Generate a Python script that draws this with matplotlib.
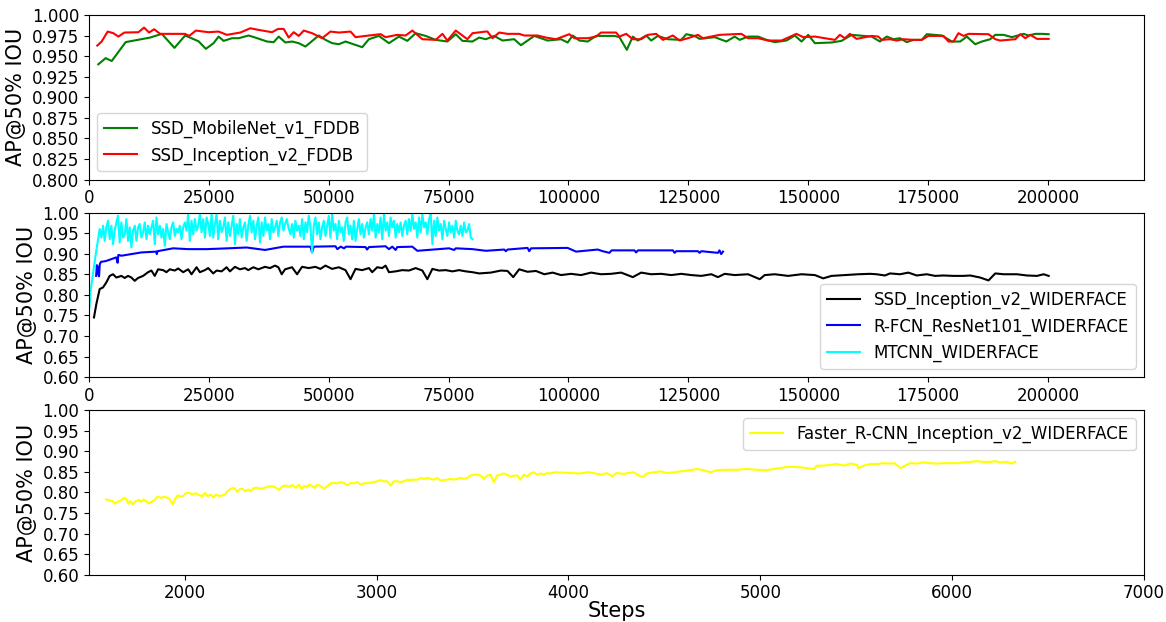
import matplotlib.pyplot as plt
import numpy as np
from matplotlib.ticker import FormatStrFormatter

# ---- top panel (FDDB): (step, AP@50) ----
mobilenet_fddb = [
    (1950, 0.940), (3480, 0.9475), (4740, 0.944), (7660, 0.967), (12750, 0.9725), (15190, 0.977),
    (17830, 0.960), (20060, 0.975), (22850, 0.968), (24380, 0.9588), (25990, 0.9657), (27030, 0.9737),
    (28080, 0.9685), (29820, 0.9717), (31210, 0.9717), (33300, 0.975), (34690, 0.9725), (37130, 0.9677),
    (38520, 0.9669), (39570, 0.9737), (40960, 0.9665), (42360, 0.9677), (43750, 0.9657), (45140, 0.9616),
    (47930, 0.975), (49320, 0.9697), (50720, 0.9657), (52110, 0.9644), (53500, 0.9677), (56990, 0.9608),
    (58380, 0.9705), (60470, 0.9745), (62560, 0.9657), (64650, 0.9737), (66390, 0.9685), (68130, 0.9778),
    (70220, 0.9745), (72310, 0.9697), (74750, 0.9677), (76490, 0.9766), (77890, 0.9685), (79980, 0.9677),
    (81370, 0.9725), (82760, 0.9705), (84510, 0.9745), (86250, 0.9689), (88690, 0.9705), (90080, 0.9632),
    (92870, 0.9745), (95650, 0.9689), (98440, 0.9705), (99830, 0.9665), (100880, 0.975), (102270, 0.9689),
    (104010, 0.9677), (105760, 0.9745), (109590, 0.9745), (110630, 0.973), (112170, 0.9576), (113420, 0.9737),
    (114460, 0.9689), (116210, 0.975), (117250, 0.9689), (118640, 0.9745), (120730, 0.9705), (123520, 0.9697),
    (124570, 0.9766), (126310, 0.9745), (127350, 0.9709), (130490, 0.973), (132930, 0.9677), (134670, 0.9737),
    (135710, 0.9697), (137460, 0.9737), (139550, 0.9737), (141290, 0.9697), (143030, 0.9669), (145470, 0.9689),
    (147210, 0.975), (148600, 0.9677), (150000, 0.9758), (151390, 0.9657), (154870, 0.9665), (156960, 0.9685),
    (159050, 0.9758), (163230, 0.9737), (164970, 0.9677), (166370, 0.9737), (167760, 0.9705), (169150, 0.9717),
    (170550, 0.9669), (171940, 0.9697), (173680, 0.9697), (174730, 0.9766), (177860, 0.975), (179950, 0.9677),
    (181690, 0.9677), (183090, 0.9737), (184830, 0.9644), (186220, 0.9677), (187960, 0.9705), (189010, 0.9758),
    (190750, 0.9758), (192490, 0.973), (194930, 0.977), (195970, 0.975), (197370, 0.977), (198760, 0.977),
    (200150, 0.9766),
]
inception_fddb = [
    (1740, 0.9628), (2650, 0.9677), (3900, 0.9798), (5090, 0.9778), (6130, 0.9737), (7380, 0.9786),
    (10310, 0.979), (11500, 0.9846), (12540, 0.9786), (13590, 0.9826), (14840, 0.977), (17280, 0.977),
    (20060, 0.977), (20900, 0.9745), (22290, 0.981), (24940, 0.979), (27030, 0.9798), (28770, 0.9758),
    (31560, 0.9786), (33650, 0.9838), (35390, 0.9818), (38180, 0.979), (39430, 0.983), (40610, 0.983),
    (41660, 0.9725), (42710, 0.979), (43750, 0.9745), (44800, 0.981), (46540, 0.9778), (48630, 0.9717),
    (50370, 0.9798), (52110, 0.9786), (54550, 0.9798), (55590, 0.973), (58380, 0.975), (60820, 0.9766),
    (61860, 0.973), (64300, 0.9758), (66040, 0.975), (67440, 0.981), (69530, 0.9705), (72310, 0.9697),
    (73710, 0.977), (74750, 0.9689), (76490, 0.981), (78930, 0.9705), (79980, 0.9778), (82760, 0.9798),
    (83110, 0.9798), (84160, 0.9717), (85550, 0.9786), (87290, 0.977), (89730, 0.977), (90780, 0.975),
    (93560, 0.975), (95310, 0.9725), (97400, 0.9705), (100180, 0.9766), (101230, 0.9717), (104010, 0.9717),
    (105760, 0.9737), (106800, 0.9786), (109940, 0.9786), (110630, 0.9737), (112030, 0.977), (113420, 0.9705),
    (115160, 0.9705), (116550, 0.9758), (118300, 0.977), (119690, 0.9697), (121780, 0.975), (123170, 0.9689),
    (124910, 0.9717), (127000, 0.9758), (128050, 0.9717), (131530, 0.9758), (136060, 0.977), (137460, 0.9717),
    (139550, 0.9717), (141640, 0.9689), (144420, 0.9689), (147560, 0.977), (148950, 0.973), (151390, 0.9737),
    (155570, 0.9697), (156610, 0.9758), (157660, 0.9717), (158700, 0.977), (160100, 0.9709), (163230, 0.9745),
    (164620, 0.9737), (165320, 0.9697), (167060, 0.9705), (168460, 0.9689), (169850, 0.9705), (171940, 0.9697),
    (173680, 0.9697), (175070, 0.9745), (178210, 0.9745), (179250, 0.9677), (180300, 0.9677), (181340, 0.9778),
    (182390, 0.9745), (183430, 0.977), (187610, 0.9766), (189010, 0.9705), (190050, 0.9689), (193190, 0.9705),
    (194230, 0.9766), (195280, 0.9717), (196320, 0.9758), (197720, 0.9709), (200150, 0.9709),
]

# ---- middle panel (WIDERFACE) ----
inception_wider = [
    (1045, 0.745), (1530, 0.777), (2230, 0.814), (2930, 0.818), (3620, 0.830), (4320, 0.846), (5020, 0.850),
    (5710, 0.842), (6760, 0.846), (7450, 0.841), (8150, 0.846), (8850, 0.842), (9540, 0.834), (10240, 0.841),
    (11290, 0.846), (12330, 0.855), (13030, 0.859), (13720, 0.846), (14420, 0.862), (15470, 0.860),
    (16160, 0.855), (16860, 0.862), (17900, 0.859), (18600, 0.864), (19650, 0.855), (20690, 0.862),
    (21390, 0.850), (22440, 0.867), (23130, 0.855), (24170, 0.860), (24870, 0.865), (25920, 0.852),
    (26610, 0.859), (27660, 0.857), (28700, 0.867), (29400, 0.857), (30440, 0.868), (31490, 0.862),
    (32530, 0.865), (33230, 0.860), (34280, 0.867), (35320, 0.862), (36710, 0.868), (37760, 0.865),
    (38800, 0.871), (39500, 0.867), (40200, 0.850), (40900, 0.862), (42350, 0.867), (43400, 0.850),
    (44440, 0.868), (45840, 0.865), (47230, 0.868), (48270, 0.863), (49320, 0.871), (50710, 0.863),
    (52110, 0.867), (53500, 0.860), (54550, 0.838), (55590, 0.863), (56980, 0.860), (58380, 0.865),
    (59070, 0.855), (60120, 0.867), (61160, 0.865), (61860, 0.871), (62560, 0.855), (63950, 0.857),
    (65350, 0.860), (66740, 0.859), (68130, 0.865), (69530, 0.859), (70570, 0.838), (71620, 0.863),
    (73010, 0.859), (74400, 0.860), (75800, 0.857), (77190, 0.860), (78590, 0.857), (79980, 0.855),
    (81370, 0.852), (83810, 0.854), (85900, 0.859), (87290, 0.858), (88480, 0.843), (89730, 0.862),
    (91470, 0.856), (93220, 0.858), (94960, 0.850), (96700, 0.854), (98440, 0.848), (100530, 0.851),
    (102620, 0.848), (104710, 0.854), (106800, 0.850), (108890, 0.851), (110980, 0.854), (113420, 0.843),
    (115160, 0.854), (117250, 0.850), (119340, 0.851), (121430, 0.848), (123520, 0.851), (125610, 0.848),
    (127700, 0.846), (129790, 0.850), (131180, 0.843), (132580, 0.851), (134670, 0.848), (137460, 0.850),
    (139900, 0.838), (140940, 0.848), (143030, 0.850), (145820, 0.846), (148600, 0.850), (151390, 0.848),
    (153130, 0.840), (154870, 0.846), (157660, 0.848), (160450, 0.850), (162890, 0.851), (164270, 0.850),
    (166010, 0.847), (167060, 0.852), (169150, 0.850), (170890, 0.854), (172630, 0.847), (174720, 0.850),
    (176460, 0.846), (178200, 0.847), (180290, 0.846), (182380, 0.846), (183780, 0.847), (185870, 0.842),
    (187610, 0.835), (189010, 0.852), (190750, 0.850), (193540, 0.850), (195620, 0.847), (197710, 0.846),
    (199100, 0.850), (200150, 0.846),
]
rfcn_wider = [
    (1500, 0.846), (1650, 0.872), (1800, 0.850), (1950, 0.868), (2100, 0.845), (2250, 0.874), (2490, 0.880),
    (3500, 0.882), (4500, 0.886), (5700, 0.891), (5970, 0.878), (6130, 0.897), (6760, 0.895), (10940, 0.903),
    (14070, 0.905), (14140, 0.899), (14300, 0.906), (17560, 0.913), (20690, 0.911), (24520, 0.911),
    (29050, 0.913), (32880, 0.915), (36710, 0.909), (40550, 0.917), (46190, 0.917), (46530, 0.903),
    (46900, 0.917), (51410, 0.918), (51800, 0.911), (52500, 0.917), (53200, 0.913), (53600, 0.917),
    (57680, 0.916), (58000, 0.910), (58400, 0.916), (61860, 0.918), (62560, 0.911), (63260, 0.917),
    (63950, 0.909), (64300, 0.916), (67430, 0.917), (68480, 0.907), (75100, 0.913), (76150, 0.909),
    (76500, 0.913), (79980, 0.911), (82760, 0.907), (86600, 0.910), (86950, 0.906), (87300, 0.910),
    (91470, 0.914), (91820, 0.906), (92200, 0.913), (99830, 0.914), (101580, 0.905), (106110, 0.910),
    (107150, 0.906), (108540, 0.902), (109000, 0.908), (113770, 0.908), (114100, 0.903), (114500, 0.908),
    (121780, 0.908), (122130, 0.902), (122500, 0.906), (127000, 0.906), (127350, 0.902), (127700, 0.906),
    (131180, 0.902), (131500, 0.908), (131850, 0.899), (132230, 0.905),
]
mtcnn_steps = [
    100, 350, 840, 1320, 1740, 2230,
    2580, 2930, 3280, 3630, 3970, 4320, 4670, 5020, 5370, 5720,
    6060, 6410, 6760, 7110, 7460, 7810, 8150, 8500, 8850, 9200,
    9550, 9900, 10240, 10590, 10940, 11290, 11640, 11990, 12330, 12680,
    13030, 13380, 13730, 14080, 14420, 14770, 15120, 15470, 15820, 16170,
    16510, 16860, 17210, 17560, 17910, 18260, 18600, 18950, 19300, 19650,
    20000, 20350, 20690, 21040, 21390, 21740, 22090, 22440, 22780, 23130,
    23480, 23830, 24180, 24530, 24870, 25220, 25570, 25920, 26270, 26620,
    26960, 27310, 27660, 28010, 28360, 28710, 29050, 29400, 29750, 30100,
    30450, 30800, 31140, 31490, 31840, 32190, 32540, 32890, 33230, 33580,
    33930, 34280, 34630, 34980, 35320, 35670, 36020, 36370, 36720, 37070,
    37410, 37760, 38110, 38460, 38810, 39160, 39500, 39850, 40200, 40550,
    40900, 41250, 41590,
    42010, 42360, 42710, 43060, 43400, 43750, 44100, 44450, 44800, 45150,
    45490, 45840, 46190, 46540, 46890, 47240, 47580, 47930, 48280, 48630,
    48980, 49330, 49670, 50020, 50370, 50720, 51070, 51420, 51760, 52110,
    52460, 52810, 53160, 53510, 53850, 54200, 54550, 54900, 55250, 55600,
    55940, 56290, 56640, 56990, 57340, 57690, 58030, 58380, 58730, 59080,
    59430, 59780, 60120, 60470, 60820, 61170, 61520, 61870, 62210, 62560,
    62910, 63260, 63610, 63960, 64300, 64650, 65000, 65350, 65700, 66050,
    66390, 66740, 67090, 67440, 67790, 68140, 68480, 68830, 69180, 69530,
    69880, 70230, 70570, 70920, 71270, 71620, 71970, 72320, 72660, 73010,
    73360, 73710, 74060, 74410, 74750, 75100, 75450, 75800, 76150, 76500,
    76840, 77190, 77540, 77890, 78240, 78590, 78930, 79280, 79630, 79980,
]
mtcnn_ap = [
    0.770, 0.810, 0.851, 0.891, 0.923, 0.960,
    0.939, 0.968, 0.931, 0.964, 0.980, 0.935, 0.968, 0.923, 0.956, 0.976,
    0.992, 0.927, 0.976, 0.939, 0.947, 0.984, 0.931, 0.964, 0.915, 0.956,
    0.968, 0.931, 0.964, 0.972, 0.939, 0.952, 0.976, 0.935, 0.968, 0.947,
    0.964, 0.980, 0.923, 0.988, 0.947, 0.968, 0.939, 0.960, 0.919, 0.972,
    0.952, 0.935, 0.964, 0.976, 0.943, 0.960, 0.952, 0.968, 0.935, 0.964,
    0.976, 0.956, 0.996, 0.931, 0.980, 0.947, 0.984, 0.956, 0.968, 0.996,
    0.952, 0.984, 0.939, 0.988, 0.972, 0.943, 0.996, 0.939, 0.972, 0.996,
    0.935, 0.980, 0.952, 0.964, 0.988, 0.931, 0.976, 0.943, 0.968, 0.992,
    0.923, 0.972, 0.947, 0.984, 0.939, 0.964, 0.976, 0.931, 0.968, 0.992,
    0.952, 0.980, 0.935, 0.968, 0.988, 0.927, 0.976, 0.943, 0.988, 0.956,
    0.972, 0.935, 0.984, 0.952, 0.964, 0.980, 0.943, 0.976, 0.988, 0.956,
    0.972, 0.984, 0.964,
    0.947, 0.972, 0.939, 0.980, 0.956, 0.968, 0.943, 0.984, 0.935, 0.976,
    0.952, 0.992, 0.964, 0.903, 0.968, 0.988, 0.947, 0.976, 0.935, 0.964,
    0.980, 0.943, 0.968, 0.992, 0.939, 0.996, 0.956, 0.972, 0.935, 0.980,
    0.952, 0.964, 0.931, 0.976, 0.988, 0.947, 0.968, 0.935, 0.980, 0.931,
    0.960, 0.984, 0.947, 0.972, 0.939, 0.964, 0.976, 0.947, 0.984, 0.956,
    0.996, 0.939, 0.972, 0.952, 0.988, 0.935, 0.996, 0.956, 0.976, 0.943,
    0.988, 0.964, 0.980, 0.939, 0.972, 0.952, 0.976, 0.943, 0.968, 0.980,
    0.947, 0.984, 0.956, 0.996, 0.960, 0.976, 0.939, 0.988, 0.952, 0.996,
    0.964, 0.976, 0.947, 0.984, 0.996, 0.923, 0.980, 0.943, 0.988, 0.956,
    0.972, 0.935, 0.980, 0.960, 0.943, 0.976, 0.952, 0.968, 0.939, 0.980,
    0.956, 0.947, 0.968, 0.943, 0.976, 0.952, 0.956, 0.972, 0.939, 0.935,
]

# ---- bottom panel ----
faster_rcnn_wider = [
    (1589, 0.783), (1606, 0.781), (1623, 0.779), (1632, 0.773), (1649, 0.777), (1667, 0.781), (1684, 0.787),
    (1693, 0.785), (1705, 0.773), (1715, 0.779), (1727, 0.771), (1745, 0.779), (1762, 0.782), (1771, 0.777),
    (1785, 0.783), (1797, 0.779), (1814, 0.773), (1832, 0.779), (1846, 0.783), (1858, 0.790), (1875, 0.787),
    (1892, 0.789), (1910, 0.787), (1922, 0.783), (1936, 0.771), (1948, 0.783), (1962, 0.793), (1979, 0.790),
    (1991, 0.791), (2005, 0.798), (2023, 0.799), (2040, 0.795), (2057, 0.798), (2075, 0.793), (2092, 0.791),
    (2106, 0.799), (2118, 0.791), (2135, 0.795), (2148, 0.787), (2161, 0.795), (2179, 0.791), (2196, 0.793),
    (2210, 0.795), (2222, 0.803), (2240, 0.809), (2257, 0.811), (2274, 0.801), (2283, 0.807), (2300, 0.809),
    (2314, 0.803), (2332, 0.807), (2344, 0.803), (2361, 0.811), (2378, 0.811), (2396, 0.809), (2413, 0.811),
    (2431, 0.814), (2448, 0.815), (2465, 0.814), (2483, 0.809), (2491, 0.806), (2509, 0.815), (2526, 0.817),
    (2543, 0.814), (2561, 0.818), (2578, 0.811), (2595, 0.819), (2609, 0.809), (2621, 0.815), (2639, 0.814),
    (2648, 0.819), (2665, 0.815), (2674, 0.811), (2691, 0.819), (2708, 0.815), (2726, 0.809), (2743, 0.815),
    (2760, 0.822), (2778, 0.823), (2795, 0.822), (2812, 0.825), (2830, 0.823), (2847, 0.817), (2865, 0.823),
    (2882, 0.822), (2899, 0.825), (2917, 0.819), (2934, 0.822), (2960, 0.823), (2986, 0.825), (3003, 0.827),
    (3021, 0.830), (3038, 0.827), (3055, 0.827), (3073, 0.817), (3090, 0.827), (3108, 0.827), (3125, 0.825),
    (3142, 0.827), (3160, 0.831), (3177, 0.830), (3194, 0.831), (3212, 0.831), (3229, 0.835), (3246, 0.833),
    (3264, 0.835), (3281, 0.833), (3299, 0.831), (3316, 0.835), (3333, 0.829), (3351, 0.830), (3368, 0.831),
    (3385, 0.833), (3403, 0.831), (3420, 0.833), (3437, 0.835), (3455, 0.833), (3472, 0.835), (3490, 0.841),
    (3507, 0.843), (3524, 0.843), (3542, 0.841), (3559, 0.833), (3576, 0.841), (3594, 0.843), (3611, 0.825),
    (3628, 0.841), (3646, 0.843), (3663, 0.846), (3680, 0.843), (3698, 0.838), (3715, 0.841), (3733, 0.841),
    (3750, 0.831), (3767, 0.843), (3785, 0.839), (3802, 0.846), (3819, 0.849), (3837, 0.843), (3854, 0.846),
    (3871, 0.843), (3889, 0.847), (3906, 0.846), (3929, 0.849), (4060, 0.846), (4100, 0.849), (4130, 0.847),
    (4170, 0.843), (4200, 0.847), (4230, 0.839), (4250, 0.847), (4290, 0.845), (4310, 0.847), (4340, 0.849),
    (4375, 0.839), (4390, 0.838), (4410, 0.846), (4445, 0.849), (4480, 0.851), (4515, 0.847), (4550, 0.849),
    (4580, 0.851), (4635, 0.854), (4670, 0.857), (4705, 0.854), (4740, 0.849), (4775, 0.854), (4825, 0.855),
    (4880, 0.855), (4930, 0.857), (4980, 0.855), (5035, 0.854), (5070, 0.857), (5105, 0.859), (5140, 0.862),
    (5170, 0.862), (5210, 0.861), (5240, 0.859), (5280, 0.857), (5295, 0.865), (5330, 0.865), (5365, 0.867),
    (5400, 0.869), (5435, 0.865), (5470, 0.870), (5505, 0.867), (5510, 0.859), (5540, 0.865), (5575, 0.869),
    (5610, 0.869), (5640, 0.871), (5675, 0.870), (5700, 0.871), (5730, 0.859), (5755, 0.865), (5780, 0.871),
    (5815, 0.870), (5850, 0.873), (5885, 0.871), (5920, 0.870), (5955, 0.871), (5990, 0.871), (6025, 0.871),
    (6060, 0.873), (6095, 0.874), (6130, 0.876), (6165, 0.874), (6200, 0.874), (6225, 0.876), (6250, 0.873),
    (6285, 0.874), (6310, 0.870), (6330, 0.874),
]


def xy(pairs):
    arr = np.array(pairs)
    return arr[:, 0], arr[:, 1]


def style_axis(ax):
    ax.tick_params(labelsize=12)
    ax.set_ylabel("AP@50% IOU", fontsize=15)


fig, (ax1, ax2, ax3) = plt.subplots(3, 1, figsize=(11.66, 6.22), dpi=100)
fig.subplots_adjust(left=0.0763, right=0.981, top=0.976, bottom=0.076, hspace=0.2)

# top
x, y = xy(mobilenet_fddb)
ax1.plot(x, y, color='green', lw=1.5, label="SSD_MobileNet_v1_FDDB")
x, y = xy(inception_fddb)
ax1.plot(x, y, color='red', lw=1.5, label="SSD_Inception_v2_FDDB")
ax1.set_xlim(0, 220000)
ax1.set_ylim(0.8, 1.0)
ax1.set_xticks(np.arange(0, 200001, 25000))
ax1.set_yticks(np.linspace(0.8, 1.0, 9))
ax1.yaxis.set_major_formatter(FormatStrFormatter('%.3f'))
style_axis(ax1)
ax1.legend(loc='lower left', fontsize=12)

# middle
x, y = xy(inception_wider)
ax2.plot(x, y, color='black', lw=1.5, label="SSD_Inception_v2_WIDERFACE")
x, y = xy(rfcn_wider)
ax2.plot(x, y, color='blue', lw=1.5, label="R-FCN_ResNet101_WIDERFACE")
ax2.plot(mtcnn_steps, mtcnn_ap, color='cyan', lw=1.5, label="MTCNN_WIDERFACE")
ax2.set_xlim(0, 220000)
ax2.set_ylim(0.6, 1.0)
ax2.set_xticks(np.arange(0, 200001, 25000))
ax2.set_yticks(np.linspace(0.6, 1.0, 9))
ax2.yaxis.set_major_formatter(FormatStrFormatter('%.2f'))
style_axis(ax2)
ax2.legend(loc='lower right', fontsize=12)

# bottom
x, y = xy(faster_rcnn_wider)
ax3.plot(x, y, color='yellow', lw=1.5, label="Faster_R-CNN_Inception_v2_WIDERFACE")
ax3.set_xlim(1500, 7000)
ax3.set_ylim(0.6, 1.0)
ax3.set_xticks(np.arange(2000, 7001, 1000))
ax3.set_yticks(np.linspace(0.6, 1.0, 9))
ax3.yaxis.set_major_formatter(FormatStrFormatter('%.2f'))
style_axis(ax3)
ax3.set_xlabel("Steps", fontsize=15, labelpad=-1)
ax3.legend(loc='upper right', fontsize=12)

plt.savefig("out.png")
